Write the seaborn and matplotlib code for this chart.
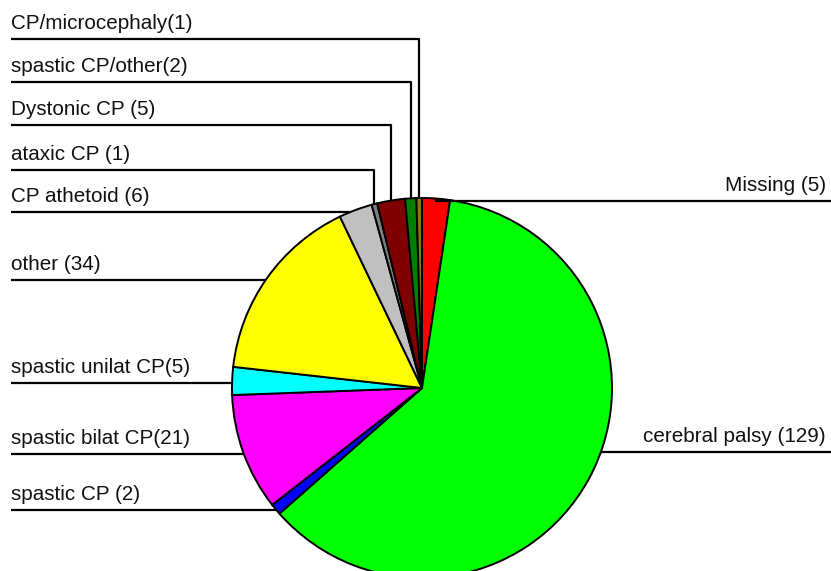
import numpy as np
import matplotlib
matplotlib.use("Agg")
import matplotlib.pyplot as plt
import seaborn as sns

# ---- data (clockwise from 12 o'clock) ----
categories = ["Missing", "cerebral palsy", "spastic CP", "spastic bilat CP",
              "spastic unilat CP", "other", "CP athetoid", "ataxic CP",
              "Dystonic CP", "spastic CP/other", "CP/microcephaly"]
counts = [5, 129, 2, 21, 5, 34, 6, 1, 5, 2, 1]
labels = ["Missing (5)", "cerebral palsy (129)", "spastic CP (2)",
          "spastic bilat CP(21)", "spastic unilat CP(5)", "other (34)",
          "CP athetoid (6)", "ataxic CP (1)", "Dystonic CP (5)",
          "spastic CP/other(2)", "CP/microcephaly(1)"]
colors = ["#FF0000", "#00FF00", "#0000FF", "#FF00FF", "#00FFFF", "#FFFF00",
          "#C0C0C0", "#808080", "#800000", "#008000", "#808000"]

# label line heights (pixel rows from the top) and side
label_rows = [201, 452, 510, 454, 383, 280, 212, 170, 125, 82, 39]
label_side = ["R", "R", "L", "L", "L", "L", "L", "L", "L", "L", "L"]

sns.set_theme(style="white")
plt.rcParams['font.family'] = ['Liberation Sans', 'DejaVu Sans']

W, H = 831, 571
fig = plt.figure(figsize=(W / 100, H / 100), dpi=100)
ax = fig.add_axes([0, 0, 1, 1])

cx, cy_px, R = 422, 388, 190
cy = H - cy_px

wedges, _ = ax.pie(counts, colors=colors, startangle=90, counterclock=False,
                   center=(cx, cy), radius=R,
                   wedgeprops=dict(edgecolor="black", linewidth=1.4))

ax.set_xlim(0, W)
ax.set_ylim(0, H)
ax.set_aspect("equal")
ax.axis("off")

top_y = cy + R
for w, lab, row, side in zip(wedges, labels, label_rows, label_side):
    ly = H - row
    mid = np.deg2rad((w.theta1 + w.theta2) / 2)
    ax_x = cx + R * np.cos(mid)
    ax_y = cy + R * np.sin(mid)
    if ly > top_y - 4:
        # label above the pie: vertical then horizontal
        xs = [ax_x, ax_x, 11 if side == "L" else W]
        ys = [ax_y, ly, ly]
    else:
        dy = ly - cy
        dx = np.sqrt(max(R * R - dy * dy, 0))
        ex = cx - dx if side == "L" else cx + dx
        xs = [ex, 11 if side == "L" else W]
        ys = [ly, ly]
    ax.plot(xs, ys, color="black", linewidth=1.6, solid_capstyle="butt")
    if side == "L":
        ax.text(11, ly + 10, lab, ha="left", va="baseline", fontsize=14.9, color="#111111")
    else:
        ax.text(826, ly + 10, lab, ha="right", va="baseline", fontsize=14.9, color="#111111")

fig.savefig("out.png", dpi=100)
